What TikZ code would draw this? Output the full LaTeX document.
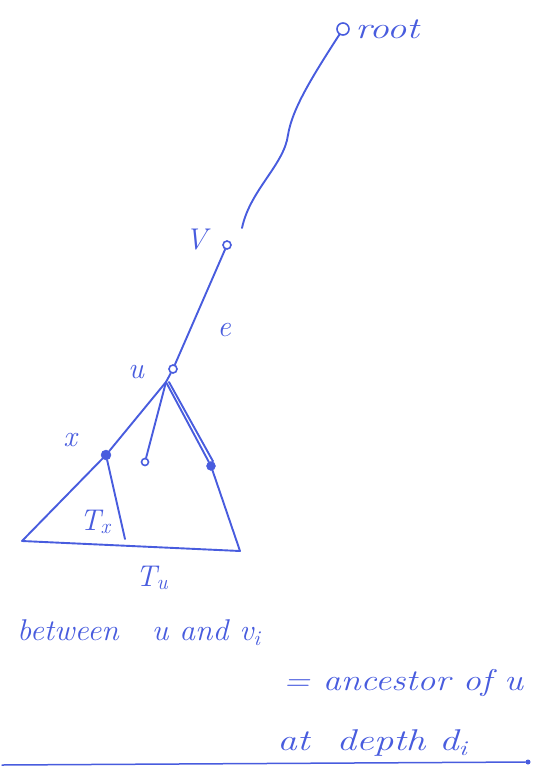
\documentclass[tikz,border=0pt]{standalone}
\usepackage{fontspec}
\definecolor{pen}{RGB}{72,92,222}
\begin{document}
\begin{tikzpicture}[x=1pt,y=-1pt,
  pen/.style={draw=pen,line width=1.9pt,line cap=round,line join=round},
  hollow/.style={circle,draw=pen,line width=1.6pt,inner sep=0pt,minimum size=8pt},
  solid/.style={circle,fill=pen,draw=pen,inner sep=0pt,minimum size=10pt},
  lbl/.style={text=pen,font=\itshape\fontsize{30}{34}\selectfont,inner sep=0pt},
  txt/.style={text=pen,font=\itshape\fontsize{30}{34}\selectfont,inner sep=0pt,anchor=base west}]
\useasboundingbox (0,0) rectangle (534,777);
% nodes
\node[hollow,minimum size=12pt] (root) at (343,29) {};
\node[hollow] (v) at (227,245) {};
\node[hollow] (u) at (173,369) {};
\coordinate (apex) at (166,382);
\node[solid] (x) at (106,455) {};
\node[hollow,minimum size=7pt] (m) at (145,462) {};
\node[solid,minimum size=9pt] (y) at (211,466) {};
\coordinate (L) at (22,541);
\coordinate (R) at (240,551);
\coordinate (xb) at (125,539);
\coordinate (vtop) at (242,228);
% labels
\node[lbl,anchor=base west,xscale=1.3] (rootl) at (355,38) {root};
\node[lbl] (vl) at (196,240) {V};
\node[lbl] (el) at (224,330) {e};
\node[lbl] (ul) at (136,372) {u};
\node[lbl] (xl) at (70,440) {x};
\node[lbl] (txl) at (95,522) {T\textsubscript{x}};
\node[lbl] (tul) at (152,578) {T\textsubscript{u}};
% edges
\draw[pen] (root) .. controls (310,80) and (292,110) .. (288,135)
  .. controls (284,165) and (250,190) .. (vtop);
\draw[pen] (v) -- (u);
\draw[pen] (u) -- (apex);
\draw[pen] (apex) -- (x) -- (L) -- (R);
\draw[pen] (apex) -- (y) -- (R);
\draw[pen] ([xshift=3pt]apex) -- ([xshift=2pt]y.north);
\draw[pen] (apex) -- (m);
\draw[pen] (x) -- (xb);
% text
\node[txt,xscale=1.05] (t1) at (17,640) {between\ \ \ u and v\textsubscript{i}};
\node[txt,xscale=1.2] (t2) at (283,690) {= ancestor of u};
\node[txt,xscale=1.3] (t3) at (277,750) {at\ \ depth\ d\textsubscript{i}};
\coordinate (hl) at (2,765);
\node[circle,fill=pen,inner sep=0pt,minimum size=5pt] (hr) at (528,762) {};
\draw[pen,line width=1.5pt] (hl) -- (hr);
\end{tikzpicture}
\end{document}
